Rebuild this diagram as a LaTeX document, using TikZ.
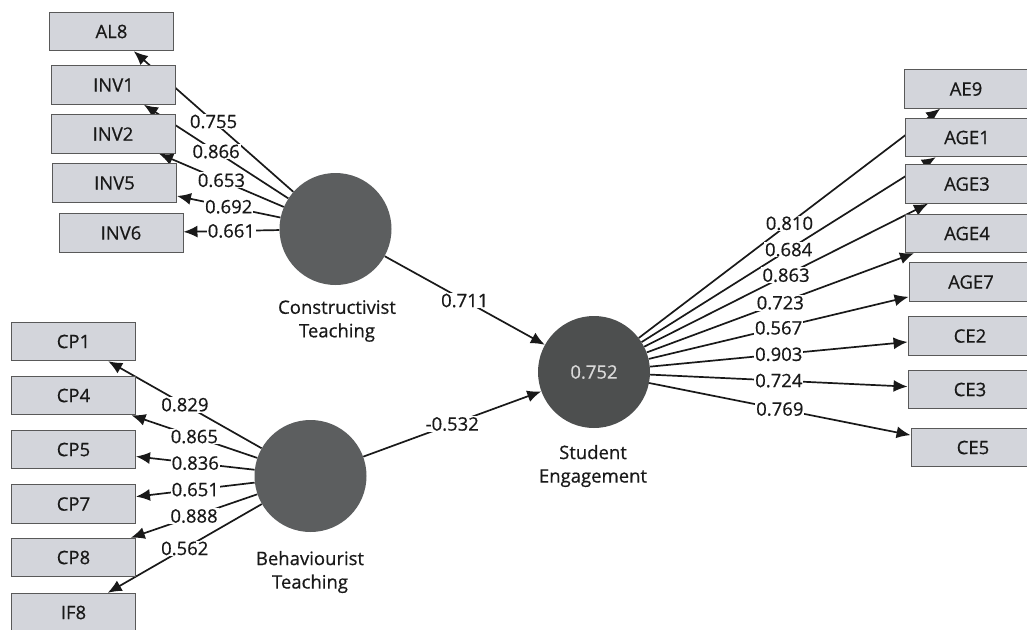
\documentclass[tikz,border=0pt]{standalone}
\usepackage{fontspec}
\setmainfont{Open Sans}[FakeBold=0.6]
\usetikzlibrary{arrows.meta}
\definecolor{boxgray}{HTML}{D3D5DB}
\definecolor{latgray}{HTML}{5C5E5F}
\definecolor{latdark}{HTML}{4D4F4F}
\pgfdeclarelayer{paper}
\pgfdeclarelayer{links}
\pgfdeclarelayer{weights}
\pgfsetlayers{paper,links,weights,main}

\begin{document}
\begin{tikzpicture}[x=1pt,y=-1pt,
  every node/.style={font=\fontsize{18.5}{22}\selectfont, text=black!90},
  indicator/.style={draw=black!65, line width=0.9pt, fill=boxgray,
    minimum width=124pt, minimum height=38.5pt, inner sep=0pt},
  latent/.style={circle, fill=latgray, minimum size=112pt, inner sep=0pt},
  loading/.style={draw=black!90, line width=1.7pt,
    -{Latex[length=14pt,width=12pt]}},
  weight/.style={fill=white, inner sep=1pt},
  caption/.style={align=center, font=\fontsize{18.5}{23.5}\selectfont}]

\begin{pgfonlayer}{paper}
  \fill[white] (0,0) rectangle (1027,629);
\end{pgfonlayer}
\useasboundingbox (0,0) rectangle (1027,629);

% latent variables
\node[latent] (CT) at (335.5,229) {};
\node[latent] (BT) at (310.5,476) {};
\node[latent, fill=latdark, text=white!85!black] (SE) at (594,372) {0.752};

\node[caption] at (337,321) {Constructivist\\Teaching};
\node[caption] at (310,572) {Behaviourist\\Teaching};
\node[caption] at (593,466) {Student\\Engagement};

% indicators of Constructivist Teaching
\node[indicator] (AL8)  at (111.5,31.5) {AL8};
\node[indicator] (INV1) at (113.5,85)   {INV1};
\node[indicator] (INV2) at (113,134)    {INV2};
\node[indicator] (INV5) at (114.5,183)  {INV5};
\node[indicator] (INV6) at (121,233)    {INV6};

% indicators of Behaviourist Teaching
\node[indicator] (CP1) at (73.5,341.5) {CP1};
\node[indicator] (CP4) at (73.5,395.5) {CP4};
\node[indicator] (CP5) at (73.5,449.5) {CP5};
\node[indicator] (CP7) at (73.5,504)   {CP7};
\node[indicator] (CP8) at (73.5,557.5) {CP8};
\node[indicator] (IF8) at (73.5,612.5) {IF8};

% indicators of Student Engagement
\node[indicator] (AE9)  at (966,89)    {AE9};
\node[indicator] (AGE1) at (967,137.5) {AGE1};
\node[indicator] (AGE3) at (967,184)   {AGE3};
\node[indicator] (AGE4) at (967,233.5) {AGE4};
\node[indicator] (AGE7) at (971,282)   {AGE7};
\node[indicator] (CE2)  at (970,336)   {CE2};
\node[indicator] (CE3)  at (970,389.5) {CE3};
\node[indicator] (CE5)  at (973,447.5) {CE5};

% arrows
\begin{pgfonlayer}{links}
  \foreach \a/\b in {CT/AL8, CT/INV1, CT/INV2, CT/INV5, CT/INV6,
                     BT/CP1, BT/CP4, BT/CP5, BT/CP7, BT/CP8, BT/IF8,
                     SE/AE9, SE/AGE1, SE/AGE3, SE/AGE4, SE/AGE7,
                     SE/CE2, SE/CE3, SE/CE5, CT/SE, BT/SE}
    \draw[loading] (\a) -- (\b);
\end{pgfonlayer}

% path coefficients and outer loadings
\begin{pgfonlayer}{weights}
  \foreach \a/\b/\v in {CT/AL8/0.755, CT/INV1/0.866, CT/INV2/0.653,
                        CT/INV5/0.692, CT/INV6/0.661,
                        BT/CP1/0.829, BT/CP4/0.865, BT/CP5/0.836,
                        BT/CP7/0.651, BT/CP8/0.888, BT/IF8/0.562,
                        SE/AE9/0.810, SE/AGE1/0.684, SE/AGE3/0.863,
                        SE/AGE4/0.723, SE/AGE7/0.567, SE/CE2/0.903,
                        SE/CE3/0.724, SE/CE5/0.769,
                        CT/SE/0.711, BT/SE/-0.532}
    \path (\a) -- node[weight] {\v} (\b);
\end{pgfonlayer}
\end{tikzpicture}
\end{document}
